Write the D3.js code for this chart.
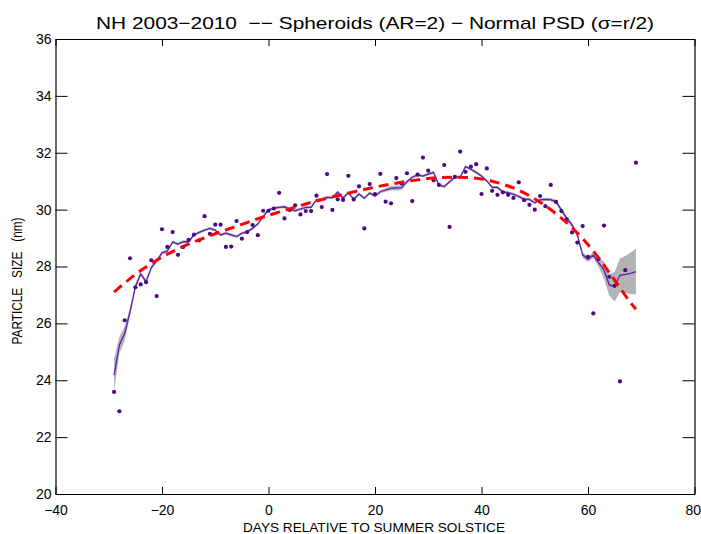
<!DOCTYPE html>
<html>
<head>
<meta charset="utf-8">
<script src="https://cdn.jsdelivr.net/npm/d3@7"></script>
<style>
  html, body { margin: 0; padding: 0; background: #fff; }
  svg { display: block; }
  text { font-family: "Liberation Sans", Arial, sans-serif; fill: #000; white-space: pre; }
</style>
</head>
<body>
<svg id="chart" width="701" height="534"></svg>
<script>
// ---------------- data ----------------
const titleText = "NH 2003\u22122010  \u2212\u2212 Spheroids (AR=2) \u2212 Normal PSD (\u03c3=r/2)";
const xLabel = "DAYS RELATIVE TO SUMMER SOLSTICE";
const yLabel = "PARTICLE   SIZE   (nm)";

const xTicks = [-40, -20, 0, 20, 40, 60, 80];
const yTicks = [20, 22, 24, 26, 28, 30, 32, 34, 36];

// individual daily points
const pointDays = [-29,-28,-27,-26,-25,-24,-23,-22,-21,-20,-19,-18,-17,-16,-15,-14,-13,-12,-11,-10,
  -9,-8,-7,-6,-5,-4,-3,-2,-1,0,1,2,3,4,5,6,7,8,9,10,11,12,13,14,15,16,17,18,19,20,
  21,22,23,24,25,26,27,28,29,30,31,32,33,34,35,36,37,38,39,40,41,42,43,44,45,46,47,48,49,50,
  51,52,53,54,55,56,57,58,59,60,61,62,63,64,65,66,67,69];
const pointValues = [23.59,22.91,26.11,28.29,27.27,27.37,27.45,28.22,26.96,29.31,28.69,29.21,28.41,28.69,28.94,29.12,28.92,29.77,29.15,29.47,
  29.47,28.69,28.70,29.60,28.98,29.21,29.46,29.10,29.96,29.96,30.04,30.59,29.69,29.99,30.15,29.83,29.95,29.95,30.49,30.09,
  31.25,29.99,30.36,30.34,31.19,30.36,30.82,29.34,30.90,30.55,
  31.26,30.28,30.22,31.11,30.92,31.28,30.30,31.23,31.83,31.37,31.03,30.87,31.57,29.39,31.15,32.04,31.33,31.51,31.60,30.55,
  31.45,30.66,30.52,30.61,30.52,30.41,30.96,30.33,30.17,30.00,
  30.48,30.12,30.87,30.27,29.95,29.66,29.20,28.84,29.42,28.34,26.35,28.26,29.44,27.64,27.32,23.96,27.87,31.65];

// running mean line and its uncertainty (half width of grey band)
const meanDays = [-29,-28,-27,-26,-25,-24,-23,-22,-21,-20,-19,-18,-17,-16,-15,-14,-13,-12,-11,-10,
  -9,-8,-7,-6,-5,-4,-3,-2,-1,0,1,2,3,4,5,6,7,8,9,10,11,12,13,14,15,16,17,18,19,20,
  21,22,23,24,25,26,27,28,29,30,31,32,33,34,35,36,37,38,39,40,41,42,43,44,45,46,47,48,49,50,
  51,52,53,54,55,56,57,58,59,60,61,62,63,64,65,66,67,68,69];
const meanValues = [24.18,25.24,25.65,26.41,27.29,27.74,27.47,27.96,28.20,28.48,28.54,28.86,28.79,28.87,28.87,29.11,29.20,29.28,29.34,29.28,
  29.11,29.17,29.11,29.05,29.17,29.22,29.34,29.50,29.75,29.99,30.05,30.08,30.10,30.02,29.96,30.02,30.08,30.08,30.34,30.36,
  30.43,30.42,30.62,30.40,30.60,30.36,30.55,30.40,30.58,30.48,
  30.63,30.69,30.75,30.76,30.77,30.98,31.14,31.22,31.18,31.25,31.31,30.87,30.81,30.98,31.14,31.14,31.51,31.42,31.31,31.18,
  31.01,30.78,30.78,30.62,30.60,30.54,30.46,30.37,30.36,30.24,
  30.34,30.36,30.35,30.28,29.99,29.69,29.46,29.11,28.40,28.26,28.40,28.13,27.88,27.35,27.29,27.69,27.72,27.76,27.82];
const meanErrors = [0.56,0.30,0.25,0.15,0.10,0.07,0.07,0.07,0.06,0.06,0.05,0.05,0.05,0.05,0.05,0.05,0.05,0.05,0.05,0.05,
  0.05,0.05,0.05,0.05,0.05,0.05,0.05,0.05,0.05,0.05,0.05,0.05,0.05,0.05,0.05,0.05,0.05,0.05,0.05,0.05,
  0.05,0.05,0.05,0.05,0.05,0.05,0.05,0.05,0.05,0.05,
  0.05,0.06,0.08,0.09,0.08,0.06,0.05,0.05,0.05,0.05,0.05,0.05,0.05,0.05,0.05,0.05,0.05,0.05,0.05,0.05,
  0.05,0.05,0.05,0.05,0.05,0.05,0.05,0.05,0.05,0.05,
  0.05,0.06,0.06,0.07,0.08,0.08,0.08,0.08,0.09,0.10,0.10,0.15,0.30,0.38,0.52,0.59,0.65,0.73,0.80];

// polynomial fit (red dashed)
const fitDays = [-29,-25,-21,-17,-13,-9,-5,-1,3,7,11,15,19,23,27,31,35,39,43,47,51,55,59,63,67,69];
const fitValues = [27.10,27.72,28.22,28.62,28.94,29.22,29.48,29.74,29.97,30.20,30.40,30.58,30.75,30.90,31.02,31.11,31.14,31.10,30.95,30.68,30.26,29.70,28.98,28.05,26.98,26.50];

// ---------------- drawing ----------------
const svg = d3.select("#chart");
const x = d3.scaleLinear().domain([-40, 80]).range([55.5, 694.5]);
const y = d3.scaleLinear().domain([20, 36]).range([494, 39]);

const meanData = meanDays.map((d, i) => ({d, v: meanValues[i], e: meanErrors[i]}));
const pts = pointDays.map((d, i) => ({d, v: pointValues[i]}));
const fit = fitDays.map((d, i) => ({d, v: fitValues[i]}));

// grey band
svg.append("path")
  .datum(meanData)
  .attr("fill", "#b3b3b3")
  .attr("stroke", "none")
  .attr("d", d3.area().x(p => x(p.d)).y0(p => y(p.v - p.e)).y1(p => y(p.v + p.e)));

// mean line
svg.append("path")
  .datum(meanData)
  .attr("fill", "none")
  .attr("stroke", "#5b22b8")
  .attr("stroke-width", 1.3)
  .attr("d", d3.line().x(p => x(p.d)).y(p => y(p.v)));

// points
svg.append("g").selectAll("circle")
  .data(pts)
  .join("circle")
  .attr("cx", p => x(p.d))
  .attr("cy", p => y(p.v))
  .attr("r", 2.1)
  .attr("fill", "#4a0a80");

// fit dashed
svg.append("path")
  .datum(fit)
  .attr("fill", "none")
  .attr("stroke", "#ff0000")
  .attr("stroke-width", 3)
  .attr("stroke-dasharray", "10,6")
  .attr("d", d3.line().curve(d3.curveNatural).x(p => x(p.d)).y(p => y(p.v)));

// axes
const fmt = d => (d < 0 ? "\u2212" + Math.abs(d) : String(d));
const axB = svg.append("g").attr("transform", "translate(0,494)")
  .call(d3.axisBottom(x).tickValues(xTicks).tickSize(-7).tickSizeOuter(0).tickPadding(11).tickFormat(fmt));
const axT = svg.append("g").attr("transform", "translate(0,39)")
  .call(d3.axisTop(x).tickValues(xTicks).tickSize(-7).tickSizeOuter(0).tickFormat(""));
const axL = svg.append("g").attr("transform", "translate(55.5,0)")
  .call(d3.axisLeft(y).tickValues(yTicks).tickSize(-12).tickSizeOuter(0).tickPadding(4).tickFormat(fmt));
const axR = svg.append("g").attr("transform", "translate(694.5,0)")
  .call(d3.axisRight(y).tickValues(yTicks).tickSize(-12).tickSizeOuter(0).tickFormat(""));

[axB, axT, axL, axR].forEach(g => {
  g.select(".domain").attr("stroke", "#000").attr("stroke-width", 1.2);
  g.selectAll(".tick line").attr("stroke", "#000").attr("stroke-width", 1);
  g.selectAll(".tick text").attr("font-size", 14).attr("font-family", "Liberation Sans, Arial, sans-serif").attr("fill", "#000");
});
// keep the last x label ("80") inside the window
axB.selectAll(".tick text").filter(d => d === 80).attr("text-anchor", "end").attr("x", 6);

// title and axis labels
svg.append("text")
  .attr("x", 375).attr("y", 29)
  .attr("text-anchor", "middle")
  .attr("font-size", 17)
  .attr("textLength", 558)
  .attr("lengthAdjust", "spacingAndGlyphs")
  .text(titleText);

svg.append("text")
  .attr("x", 374).attr("y", 532)
  .attr("text-anchor", "middle")
  .attr("font-size", 13.5)
  .attr("textLength", 262)
  .attr("lengthAdjust", "spacingAndGlyphs")
  .text(xLabel);

svg.append("text")
  .attr("transform", "translate(22,281) rotate(-90)")
  .attr("text-anchor", "middle")
  .attr("font-size", 14)
  .attr("textLength", 127)
  .attr("lengthAdjust", "spacingAndGlyphs")
  .text(yLabel);
</script>
</body>
</html>
